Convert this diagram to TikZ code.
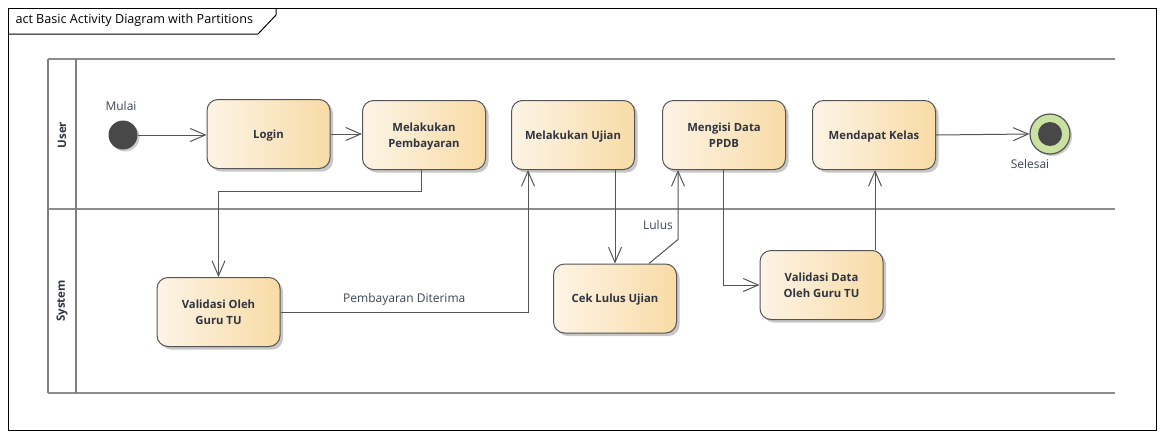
\documentclass[tikz,border=0pt]{standalone}
\usepackage{fontspec}
\setmainfont{Open Sans}
\usetikzlibrary{arrows.meta,shadows}
\definecolor{edge}{HTML}{555555}
\definecolor{fillL}{HTML}{FDF4E6}
\definecolor{fillR}{HTML}{F8DBA6}
\definecolor{txt}{HTML}{2E3440}
\definecolor{lbl}{HTML}{3A4656}
\definecolor{lane}{HTML}{8C8C8C}
\definecolor{endg}{HTML}{C9E2A2}
\begin{document}
\begin{tikzpicture}[x=1pt,y=-1pt,
  act/.style={draw=edge,line width=1pt,rounded corners=11pt,left color=fillL,right color=fillR,
    minimum width=123pt,minimum height=69pt,align=center,text=txt,text depth=0pt,
    font=\fontsize{11.3}{16}\selectfont\bfseries,
    drop shadow={shadow xshift=3pt,shadow yshift=-3pt,fill=black!22,opacity=1}},
  flow/.style={draw=edge,line width=1pt,-{Straight Barb[length=15pt,width=13pt,line width=1pt]}},
  lab/.style={text=lbl,font=\fontsize{12}{14}\selectfont},
  lanehead/.style={rotate=90,text=txt,font=\fontsize{11.5}{13}\selectfont\bfseries},
  laneline/.style={draw=lane,line width=2.6pt}]
\useasboundingbox (0,0) rectangle (1164,437);
% frame
\draw[line width=1pt] (8,8) rectangle (1156,430);
\draw[line width=1pt] (8,34) -- (258,34) -- (276,15) -- (276,8);
\node[anchor=west,text=black,font=\fontsize{12.6}{14}\selectfont] (title) at (12,20.5) {act Basic Activity Diagram with Partitions};
% lanes
\draw[laneline] (48,59) -- (1115,59);
\draw[laneline] (48,209) -- (1115,209);
\draw[laneline] (48,393) -- (1115,393);
\draw[draw=lane!90!black,line width=1.4pt] (48,59) -- (48,393);
\draw[draw=lane!90!black,line width=1.4pt] (76,59) -- (76,393);
\node[lanehead] (uLane) at (62,135) {User};
\node[lanehead] (sLane) at (62,301) {System};
% nodes
\node[circle,fill=edge!85!black,minimum size=29pt,inner sep=0pt,
  drop shadow={shadow xshift=2pt,shadow yshift=-2pt,fill=black!20,opacity=1}] (start) at (123,135) {};
\node[lab] (mulai) at (121,106) {Mulai};
\node[act] (login) at (268.5,134) {Login};
\node[act] (pay) at (424,135) {Melakukan\\Pembayaran};
\node[act] (ujian) at (573,135) {Melakukan Ujian};
\node[act] (ppdb) at (724,135) {Mengisi Data\\PPDB};
\node[act] (kelas) at (874,135) {Mendapat Kelas};
\node[circle,draw=edge,line width=1.2pt,fill=endg,minimum size=40pt,inner sep=0pt,
  drop shadow={shadow xshift=2pt,shadow yshift=-2pt,fill=black!20,opacity=1}] (fin) at (1050,134) {};
\node[circle,fill=edge!85!black,minimum size=24pt,inner sep=0pt] (finin) at (1050,134) {};
\node[lab] (selesai) at (1030,164) {Selesai};
\node[act] (val1) at (218.5,312) {Validasi Oleh\\Guru TU};
\node[act] (cek) at (615,298.5) {Cek Lulus Ujian};
\node[act] (val2) at (821.5,285) {Validasi Data\\Oleh Guru TU};
% connectors
\draw[flow] (start) -- (login.west |- start);
\draw[flow] (login.east) -- (pay.west |- login.east);
\draw[flow] ([xshift=-3pt]pay.south) -- ++(0,21) -| (val1.north);
\draw[flow] (val1.east) -| ([xshift=-45pt]ujian.south)
  node[lab,pos=0.25,above=3pt] (diterima) {Pembayaran Diterima};
\draw[flow] (cek.north |- ujian.south) -- (cek.north);
\draw[flow] ([xshift=34pt]cek.north) -- ++(29,-24) coordinate (bend) -- ([xshift=-46pt]ppdb.south);
\node[lab] (lulus) at (658,225) {Lulus};
\draw[flow] ([xshift=-1pt]ppdb.south) |- (val2.west);
\draw[flow] ([xshift=1pt]kelas.south |- val2.north) -- ([xshift=1pt]kelas.south);
\draw[flow] (kelas.east) -- (fin.west);
\end{tikzpicture}
\end{document}
